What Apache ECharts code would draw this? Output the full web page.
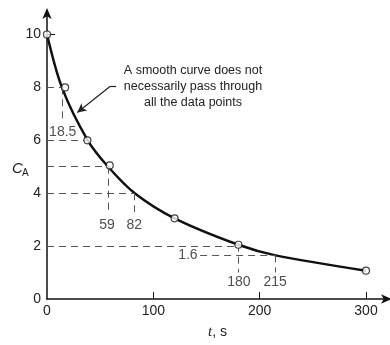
<!DOCTYPE html>
<html>
<head>
<meta charset="utf-8">
<script src="https://cdn.jsdelivr.net/npm/echarts@6/dist/echarts.min.js"></script>
<style>
html, body { margin: 0; padding: 0; background: #fff; }
#chart { width: 390px; height: 345px; }
</style>
</head>
<body>
<div id="chart"></div>
<script>
// measured points (open circles)
var tPoints = [0, 17, 38, 59, 120, 180, 300];
var cPoints = [10, 8, 6, 5.05, 3.05, 2.05, 1.07];

// smooth curve drawn through the data
var tCurve = [0, 14, 38, 57.5, 82.5, 120, 180, 215, 300];
var cCurve = [10, 8, 6.02, 5, 4, 3.05, 2.05, 1.65, 1.07];

// dashed read-off lines: horizontal [C, t from, t to], vertical [t, C top, C bottom]
var hGuides = [[8, 0, 14], [6, 0, 38], [5, 0, 57.5], [4, 0, 82.5], [2, 0, 180], [1.65, 144, 215]];
var vGuides = [[14, 8, 6.7], [57.5, 5, 3.25], [82.5, 4, 3.25], [180, 2.05, 1.0], [215, 1.65, 1.0]];

// read-off labels [t, C, text]
var readLabels = [[14.8, 6.3, '18.5'], [56.5, 2.78, '59'], [82, 2.78, '82'],
  [132.5, 1.65, '1.6'], [180.5, 0.62, '180'], [214.5, 0.62, '215']];

var noteLines = ['A smooth curve does not', 'necessarily pass through', 'all the data points'];

var chart = echarts.init(document.getElementById('chart'));

var guideData = [];
hGuides.forEach(function (g) {
  guideData.push([{ coord: [g[1], g[0]] }, { coord: [g[2], g[0]] }]);
});
vGuides.forEach(function (g) {
  guideData.push([{ coord: [g[0], g[1]] }, { coord: [g[0], g[2]] }]);
});

var font = 'Liberation Sans';

var option = {
  animation: false,
  textStyle: { fontFamily: font, color: '#222' },
  grid: { left: 47, right: 2, top: 12, bottom: 44.5 },
  xAxis: {
    type: 'value',
    min: 0,
    max: 320.7,
    interval: 100,
    name: '{i|t}, s',
    nameLocation: 'middle',
    nameGap: 26,
    nameTextStyle: {
      fontFamily: font, fontSize: 14, color: '#222',
      rich: { i: { fontStyle: 'italic', fontFamily: 'Liberation Serif', fontSize: 15, color: '#222' } }
    },
    splitLine: { show: false },
    axisLine: { lineStyle: { color: '#111', width: 1.5 }, symbol: ['none', 'arrow'], symbolSize: [7, 11], symbolOffset: [0, 4] },
    axisTick: { inside: true, length: 7, customValues: [100, 200, 300], lineStyle: { color: '#111' } },
    axisLabel: { fontSize: 14, color: '#222', margin: 5, showMaxLabel: false, fontFamily: font }
  },
  yAxis: {
    type: 'value',
    min: 0,
    max: 10.85,
    interval: 2,
    splitLine: { show: false },
    axisLine: { lineStyle: { color: '#111', width: 1.5 }, symbol: ['none', 'arrow'], symbolSize: [7, 11], symbolOffset: [0, 4] },
    axisTick: { inside: true, length: 8, customValues: [10], lineStyle: { color: '#111' } },
    axisLabel: { fontSize: 14, color: '#222', margin: 6, showMaxLabel: false, fontFamily: font }
  },
  graphic: [
    { type: 'text', left: 12, top: 161, style: { text: 'C', font: 'italic 15px ' + font, fill: '#222' } },
    { type: 'text', left: 22, top: 168, style: { text: 'A', font: '10px ' + font, fill: '#222' } },
    {
      type: 'text', x: 193, y: 63,
      style: { text: noteLines.join('\n'), font: '12.5px ' + font, fill: '#222', align: 'center', verticalAlign: 'top', lineHeight: 16 }
    }
  ],
  series: [
    {
      type: 'line',
      data: tCurve.map(function (t, i) { return [t, cCurve[i]]; }),
      smooth: 0.3,
      symbol: 'none',
      lineStyle: { color: '#111', width: 2.5 },
      z: 3,
      markLine: {
        silent: true,
        symbol: 'none',
        label: { show: false },
        lineStyle: { color: '#555', width: 1, type: [7, 5] },
        data: guideData
      }
    },
    {
      type: 'line',
      data: [],
      markLine: {
        silent: true,
        symbol: ['none', 'arrow'],
        symbolSize: [7, 9],
        label: { show: false },
        lineStyle: { color: '#222', width: 1.2, type: 'solid' },
        data: [
          [{ coord: [59.2, 8.03] }, { coord: [28.5, 7.05] }],
          [{ coord: [59.2, 8.03], symbol: 'none' }, { coord: [65, 8.03], symbol: 'none' }]
        ]
      }
    },
    {
      type: 'scatter',
      data: tPoints.map(function (t, i) { return [t, cPoints[i]]; }),
      symbol: 'circle',
      symbolSize: 7,
      itemStyle: { color: '#fff', borderColor: '#111', borderWidth: 1.2 },
      z: 5
    },
    {
      type: 'scatter',
      data: readLabels,
      symbolSize: 0,
      silent: true,
      label: {
        show: true,
        position: 'inside',
        fontFamily: font,
        fontSize: 14,
        color: '#222',
        backgroundColor: '#fff',
        formatter: function (p) { return p.value[2]; }
      },
      z: 4
    }
  ]
};

chart.setOption(option);
</script>
</body>
</html>
